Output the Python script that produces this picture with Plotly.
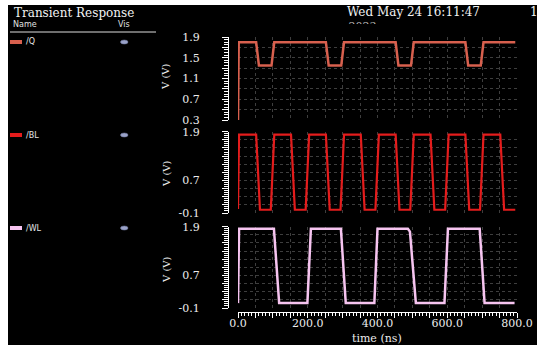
import plotly.graph_objects as go

# ---------------- data ----------------
q_t = [0, 2, 52, 60, 96, 104, 252, 260, 296, 304, 452, 460, 496, 504, 652, 660, 696, 704, 795]
q_v = [0.3, 1.8, 1.8, 1.35, 1.35, 1.8, 1.8, 1.35, 1.35, 1.8, 1.8, 1.35, 1.35, 1.8, 1.8, 1.35, 1.35, 1.8, 1.8]

bl_t = [0, 3, 52, 63, 94, 104, 152, 163, 194, 204, 252, 263, 294, 304, 352, 363, 394, 404,
        452, 463, 494, 504, 552, 563, 594, 604, 652, 663, 694, 704, 752, 763, 795]
bl_v = [0.0, 1.83, 1.83, -0.02, -0.02, 1.83, 1.83, -0.02, -0.02, 1.83, 1.83, -0.02, -0.02, 1.83,
        1.83, -0.02, -0.02, 1.83, 1.83, -0.02, -0.02, 1.83, 1.83, -0.02, -0.02, 1.83, 1.83, -0.02,
        -0.02, 1.83, 1.83, -0.02, -0.02]

wl_t = [0, 3, 103, 118, 199, 209, 295, 309, 391, 400, 487, 493, 510, 592, 602, 693, 707, 793]
wl_v = [0.02, 1.85, 1.85, 0.02, 0.02, 1.85, 1.85, 0.02, 0.02, 1.85, 1.85, 1.78, 0.02, 0.02, 1.85, 1.85, 0.02, 0.02]

x_tickvals = [0, 50, 100, 150, 200, 250, 300, 350, 400, 450, 500, 550, 600, 650, 700, 750, 800]
x_ticktext = ["0.0", "", "", "", "200.0", "", "", "", "400.0", "", "", "", "600.0", "", "", "", "800.0"]

q_tickvals = [0.3, 0.5, 0.7, 0.9, 1.1, 1.3, 1.5, 1.7, 1.9]
q_ticktext = ["0.3", "", "0.7", "", "1.1", "", "1.5", "", "1.9"]
v_tickvals = [-0.1, 0.1, 0.3, 0.5, 0.7, 0.9, 1.1, 1.3, 1.5, 1.7, 1.9]
v_ticktext = ["-0.1", "", "", "", "0.7", "", "", "", "", "", "1.9"]

signal_names = ["/Q", "/BL", "/WL"]
signal_colors = ["#d8604e", "#e41c1c", "#f6c4f0"]

title_text = "Transient Response"
date_text = "Wed May 24 16:11:47"
year_text = "2023"
page_text = "1"

# ---------------- layout helpers ----------------
W, H = 537, 345


def px(x):
    return x / W


def py(y):
    return 1 - y / H


SERIF = "DejaVu Serif"
SANS = "DejaVu Sans"
GRID = "#3e3e3e"
TXT = "#ececec"

fig = go.Figure()
fig.add_trace(go.Scatter(x=q_t, y=q_v, mode="lines", line=dict(color=signal_colors[0], width=2.5),
                         xaxis="x", yaxis="y", showlegend=False, hoverinfo="skip"))
fig.add_trace(go.Scatter(x=bl_t, y=bl_v, mode="lines", line=dict(color=signal_colors[1], width=2.2),
                         xaxis="x2", yaxis="y2", showlegend=False, hoverinfo="skip"))
fig.add_trace(go.Scatter(x=wl_t, y=wl_v, mode="lines", line=dict(color=signal_colors[2], width=2.5),
                         xaxis="x3", yaxis="y3", showlegend=False, hoverinfo="skip"))
# partially hidden year text, clipped by its own tiny subplot
fig.add_trace(go.Scatter(x=[0.5], y=[-1.0], mode="text", text=[year_text],
                         textfont=dict(family=SERIF, size=11, color="#bbbbbb"),
                         cliponaxis=True, xaxis="x4", yaxis="y4", showlegend=False, hoverinfo="skip"))

xdom = [px(238), px(517)]
panels = [(37, 120), (131.7, 213), (226.7, 308)]

hidden_x = dict(domain=xdom, range=[0, 800], showticklabels=False, ticks="", showline=False,
                showgrid=True, gridcolor=GRID, griddash="dot", gridwidth=1, zeroline=False,
                tickmode="array", tickvals=x_tickvals, automargin=False, fixedrange=True)

layout_axes = {}
layout_axes["xaxis"] = dict(hidden_x, anchor="y")
layout_axes["xaxis2"] = dict(hidden_x, anchor="y2")
layout_axes["xaxis3"] = dict(
    domain=xdom, range=[0, 800], anchor="free", position=py(312), side="bottom",
    showline=True, linecolor="white", linewidth=1,
    ticks="outside", ticklen=5, tickcolor="white", tickwidth=1,
    tickmode="array", tickvals=x_tickvals, ticktext=x_ticktext,
    minor=dict(ticks="outside", ticklen=3, dtick=10, tick0=0, tickcolor="white", showgrid=False),
    tickfont=dict(family=SERIF, size=11, color=TXT),
    showgrid=True, gridcolor=GRID, griddash="dot", gridwidth=1, zeroline=False,
    automargin=False, fixedrange=True, ticklabelstandoff=-4,
)

yspecs = [([0.3, 1.9], q_tickvals, q_ticktext, 0.3), ([-0.1, 1.9], v_tickvals, v_ticktext, -0.1),
          ([-0.1, 1.9], v_tickvals, v_ticktext, -0.1)]
for i, ((top, bot), (rng, tv, tt, t0)) in enumerate(zip(panels, yspecs)):
    name = "yaxis" if i == 0 else f"yaxis{i + 1}"
    layout_axes[name] = dict(
        domain=[py(bot), py(top)], range=rng, anchor="free", position=px(228), side="left",
        showline=True, linecolor="white", linewidth=1,
        ticks="outside", ticklen=6, tickcolor="white", tickwidth=1,
        tickmode="array", tickvals=tv, ticktext=tt,
        minor=dict(ticks="outside", ticklen=4, dtick=0.05, tick0=t0, tickcolor="white", showgrid=False),
        tickfont=dict(family=SERIF, size=11, color=TXT),
        showgrid=True, gridcolor=GRID, griddash="dot", gridwidth=1, zeroline=False,
        automargin=False, fixedrange=True, ticklabelstandoff=20,
    )

layout_axes["xaxis4"] = dict(domain=[px(340), px(385)], range=[0, 1], anchor="y4", visible=False, fixedrange=True)
layout_axes["yaxis4"] = dict(domain=[py(24), py(21)], range=[0, 1], anchor="x4", visible=False, fixedrange=True)

shapes = [
    # black canvas leaving the thin white border at left and top
    dict(type="rect", xref="paper", yref="paper", x0=px(8), x1=1.0, y0=0, y1=py(5),
         fillcolor="black", line=dict(width=0), layer="below"),
    # header underline
    dict(type="line", xref="paper", yref="paper", x0=px(10), x1=px(156), y0=py(32), y1=py(32),
         line=dict(color="#dddddd", width=1)),
]

annotations = [
    dict(text=title_text, x=px(12), y=py(13), xanchor="left", yanchor="middle",
         font=dict(family=SERIF, size=12, color="#f2f2f2")),
    dict(text="Name", x=px(11), y=py(25), xanchor="left", yanchor="middle",
         font=dict(family=SANS, size=8, color="#e0e0e0")),
    dict(text="Vis", x=px(116), y=py(25), xanchor="left", yanchor="middle",
         font=dict(family=SANS, size=8, color="#e0e0e0")),
    dict(text=date_text, x=px(345), y=py(12), xanchor="left", yanchor="middle",
         font=dict(family=SERIF, size=12, color="#f2f2f2")),
    dict(text=page_text, x=px(528), y=py(12), xanchor="left", yanchor="middle",
         font=dict(family=SERIF, size=12, color="#f2f2f2")),
    dict(text="time (ns)", x=px(377), y=py(338), xanchor="center", yanchor="middle",
         font=dict(family=SERIF, size=11, color=TXT)),
]

label_rows = [42, 135, 228]
vlabel_rows = [77, 174, 270]
for name, color, row, vrow in zip(signal_names, signal_colors, label_rows, vlabel_rows):
    shapes.append(dict(type="rect", xref="paper", yref="paper", x0=px(10), x1=px(22),
                       y0=py(row + 2), y1=py(row - 2), fillcolor=color, line=dict(width=0)))
    shapes.append(dict(type="circle", xref="paper", yref="paper", x0=px(120.5), x1=px(128),
                       y0=py(row + 2), y1=py(row - 2), fillcolor="#9aa2c8",
                       line=dict(color="#6c7398", width=0.6)))
    annotations.append(dict(text=name, x=px(24), y=py(row), xanchor="left", yanchor="middle",
                            font=dict(family=SANS, size=8, color="#e6e6e6")))
    annotations.append(dict(text="V (V)", x=px(166), y=py(vrow), xanchor="center", yanchor="middle",
                            textangle=-90, font=dict(family=SERIF, size=10, color=TXT)))

for a in annotations:
    a.update(xref="paper", yref="paper", showarrow=False)

fig.update_layout(
    width=W, height=H, autosize=False,
    margin=dict(l=0, r=0, t=0, b=0, pad=0),
    paper_bgcolor="white", plot_bgcolor="black",
    showlegend=False, shapes=shapes, annotations=annotations,
    **layout_axes,
)

fig.write_html(
    "out.html",
    config={"displayModeBar": False},
    post_script="document.body.style.margin='0px';document.body.style.padding='0px';",
)
